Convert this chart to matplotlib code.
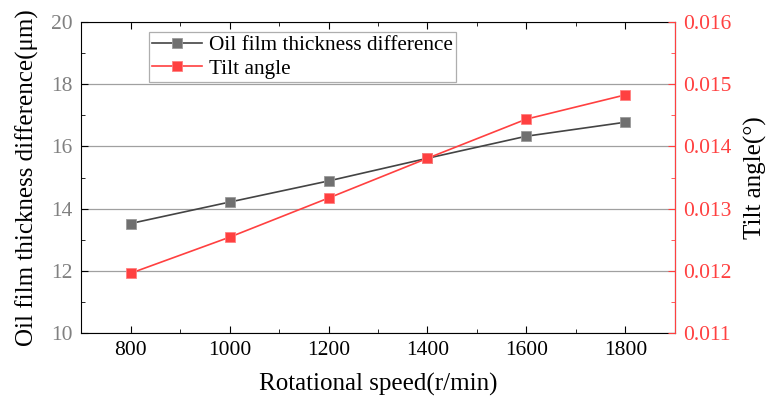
import matplotlib
matplotlib.use("Agg")
import matplotlib.pyplot as plt
from matplotlib.ticker import MultipleLocator

speed = [800, 1000, 1200, 1400, 1600, 1800]
thickness_diff = [13.52, 14.21, 14.89, 15.62, 16.33, 16.78]
tilt_angle = [0.01196, 0.01254, 0.01317, 0.01381, 0.01444, 0.01483]

plt.rcParams['font.family'] = ['Liberation Serif', 'DejaVu Serif']

RED = '#ff4040'


def main():
    fig = plt.figure(figsize=(7.66, 4.03), dpi=100)
    ax1 = fig.add_axes([0.106, 0.174, 0.775, 0.771])
    ax2 = ax1.twinx()

    l1, = ax1.plot(speed, thickness_diff, '-s', color='#444444', lw=1.2,
                   markersize=6.5, markerfacecolor='#707070',
                   markeredgecolor='#9a9a9a', markeredgewidth=0.6,
                   label='Oil film thickness difference')
    l2, = ax2.plot(speed, tilt_angle, '-s', color=RED, lw=1.2,
                   markersize=6.5, markerfacecolor=RED,
                   markeredgecolor='#ff8080', markeredgewidth=0.6,
                   label='Tilt angle')

    ax1.set_xlim(700, 1900)
    ax1.set_ylim(10, 20)
    ax2.set_ylim(0.011, 0.016)

    ax1.xaxis.set_major_locator(MultipleLocator(200))
    ax1.xaxis.set_minor_locator(MultipleLocator(100))
    ax1.yaxis.set_major_locator(MultipleLocator(2))
    ax1.yaxis.set_minor_locator(MultipleLocator(1))
    ax2.yaxis.set_major_locator(MultipleLocator(0.001))
    ax2.yaxis.set_minor_locator(MultipleLocator(0.0005))
    ax2.yaxis.set_major_formatter(plt.FormatStrFormatter('%.3f'))

    ax1.grid(axis='y', which='major', color='#a0a0a0', lw=0.9)
    ax1.set_axisbelow(True)

    ax1.tick_params(axis='both', which='both', direction='in', top=True,
                    labelsize=15.5, pad=6)
    ax1.tick_params(which='major', length=5)
    ax1.tick_params(which='minor', length=3)
    ax1.tick_params(axis='y', labelcolor='#808080')
    ax2.tick_params(axis='y', which='both', direction='in', colors=RED,
                    labelsize=15.5, pad=6)
    ax2.tick_params(which='major', length=5)
    ax2.tick_params(which='minor', length=3)
    ax2.spines['right'].set_color(RED)
    for s in ['left', 'top', 'bottom']:
        ax2.spines[s].set_visible(False)

    ax1.set_xlabel('Rotational speed(r/min)', fontsize=18, labelpad=9)
    ax1.set_ylabel('Oil film thickness difference(μm)', fontsize=18,
                   labelpad=9)
    ax2.set_ylabel('Tilt angle(°)', fontsize=18, labelpad=9)

    leg = ax1.legend(handles=[l1, l2], loc='upper left',
                     bbox_to_anchor=(0.114, 0.967), fontsize=15.3,
                     frameon=True, fancybox=False, borderpad=0.15,
                     handlelength=2.35, handletextpad=0.35, labelspacing=0.15,
                     borderaxespad=0)
    leg.get_frame().set_edgecolor('#9a9a9a')
    leg.get_frame().set_linewidth(0.9)

    fig.savefig('out.png', dpi=100)


if __name__ == "__main__":
    main()
